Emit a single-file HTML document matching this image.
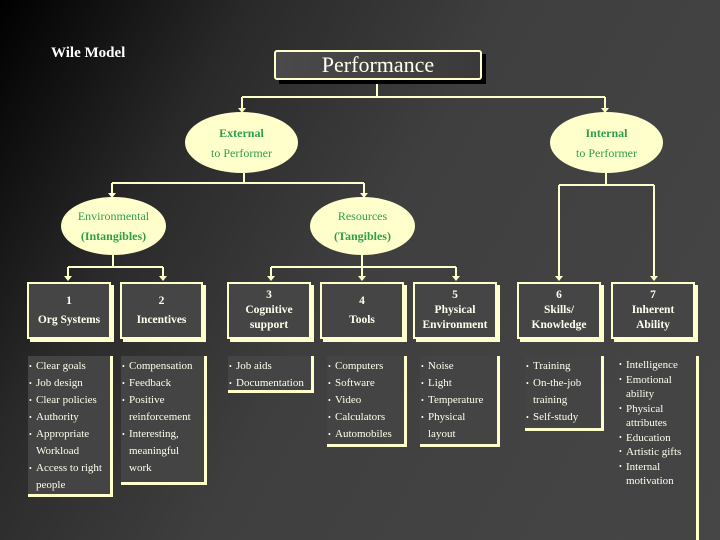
<!DOCTYPE html>
<html style="background:#3a3a3a;overflow:hidden"><head><meta charset="utf-8"><style>
body{margin:0;width:720px;height:540px;overflow:hidden;font-family:"Liberation Serif",serif;background:#3a3a3a;position:relative;}
#bg{position:absolute;left:0;top:0;width:720px;height:540px;background:linear-gradient(120deg,#000 0%,#2a2a2a 25%,#3f3f3f 50%,#464646 100%);}
.a{position:absolute;}
.box{position:absolute;border:2px solid #ffffcc;box-shadow:3px 3px 0 #ffffcc;background:#454545;color:#ffffee;font-weight:bold;font-size:11.5px;text-align:center;display:flex;flex-direction:column;justify-content:center;line-height:15px;box-sizing:border-box;}
.list{position:absolute;border-right:3px solid #ffffcc;border-bottom:3px solid #ffffcc;background:#444;color:#ffffee;font-size:11px;line-height:17px;box-sizing:border-box;padding:2px 0 0 8px;}
.list div{position:relative;padding-left:0;}
.list div::before{content:"•";position:absolute;left:-7px;font-size:8px;}
.ell{position:absolute;background:#ffffcc;border-radius:50%;color:#2e9e4e;font-size:12px;text-align:center;display:flex;flex-direction:column;justify-content:center;line-height:20px;}
</style></head><body>
<div id="bg"></div>
<svg class="a" style="left:0;top:0" width="720" height="540">
<g stroke="#ffffcc" stroke-width="2" fill="none">
<path d="M377 80V97M242 97H605M242 97V110M605 97V110"/>
<path d="M244 173V183M112 183H364M112 183V195M364 183V195"/>
<path d="M606 173V185M559 185H654M559 185V278M654 185V278"/>
<path d="M113 255V267M68 267H163M68 267V278M163 267V278"/>
<path d="M362 255V267M271 267H456M271 267V278M362 267V278M456 267V278"/>
</g>
<g fill="#ffffcc">
<path d="M238 108h8l-4 5z"/><path d="M601 108h8l-4 5z"/>
<path d="M108 193h8l-4 5z"/><path d="M360 193h8l-4 5z"/>
<path d="M64 276h8l-4 5z"/><path d="M159 276h8l-4 5z"/><path d="M267 276h8l-4 5z"/><path d="M358 276h8l-4 5z"/><path d="M452 276h8l-4 5z"/><path d="M555 276h8l-4 5z"/><path d="M650 276h8l-4 5z"/>
</g>
</svg>
<div class="a" style="left:51px;top:45px;color:#fff;font-weight:bold;font-size:15px;">Wile Model</div>
<div class="a" style="left:279px;top:54px;width:207px;height:30px;background:#000;"></div>
<div class="a" style="left:274px;top:50px;width:208px;height:30px;border:2px solid #ffffcc;border-radius:3px;box-sizing:border-box;background:linear-gradient(90deg,#4a4a4a,#3a3a3a);color:#ffffee;font-size:22px;text-align:center;line-height:26px;">Performance</div>
<div class="ell" style="left:185px;top:112px;width:113px;height:61px;"><b>External</b><span>to Performer</span></div>
<div class="ell" style="left:550px;top:112px;width:113px;height:61px;"><b>Internal</b><span>to Performer</span></div>
<div class="ell" style="left:61px;top:197px;width:105px;height:58px;"><span>Environmental</span><b>(Intangibles)</b></div>
<div class="ell" style="left:310px;top:197px;width:105px;height:58px;"><span>Resources</span><b>(Tangibles)</b></div>

<div class="box" style="left:27px;top:282px;width:84px;height:57px;"><div>1</div><div style="margin-top:4px">Org Systems</div></div>
<div class="box" style="left:120px;top:282px;width:83px;height:57px;"><div>2</div><div style="margin-top:4px">Incentives</div></div>
<div class="box" style="left:227px;top:282px;width:84px;height:57px;"><div>3</div><div>Cognitive</div><div>support</div></div>
<div class="box" style="left:320px;top:282px;width:84px;height:57px;"><div>4</div><div style="margin-top:4px">Tools</div></div>
<div class="box" style="left:413px;top:282px;width:84px;height:57px;"><div>5</div><div>Physical</div><div>Environment</div></div>
<div class="box" style="left:517px;top:282px;width:84px;height:57px;"><div>6</div><div>Skills/</div><div>Knowledge</div></div>
<div class="box" style="left:611px;top:282px;width:84px;height:57px;"><div>7</div><div>Inherent</div><div>Ability</div></div>

<div class="list" style="left:28px;top:356px;width:85px;height:141px;"><div>Clear goals</div><div>Job design</div><div>Clear policies</div><div>Authority</div><div>Appropriate<br>Workload</div><div>Access to right<br>people</div></div>
<div class="list" style="left:121px;top:356px;width:86px;height:129px;"><div>Compensation</div><div>Feedback</div><div>Positive<br>reinforcement</div><div>Interesting,<br>meaningful<br>work</div></div>
<div class="list" style="left:228px;top:356px;width:86px;height:37px;"><div>Job aids</div><div>Documentation</div></div>
<div class="list" style="left:327px;top:356px;width:80px;height:91px;"><div>Computers</div><div>Software</div><div>Video</div><div>Calculators</div><div>Automobiles</div></div>
<div class="list" style="left:420px;top:356px;width:80px;height:91px;"><div>Noise</div><div>Light</div><div>Temperature</div><div>Physical<br>layout</div></div>
<div class="list" style="left:525px;top:356px;width:79px;height:75px;"><div>Training</div><div>On-the-job<br>training</div><div>Self-study</div></div>
<div class="list" style="left:618px;top:356px;width:81px;height:184px;border-bottom:none;line-height:14.5px;"><div>Intelligence</div><div>Emotional<br>ability</div><div>Physical<br>attributes</div><div style="padding:0">Education</div><div>Artistic gifts</div><div>Internal<br>motivation</div></div>
</body></html>
